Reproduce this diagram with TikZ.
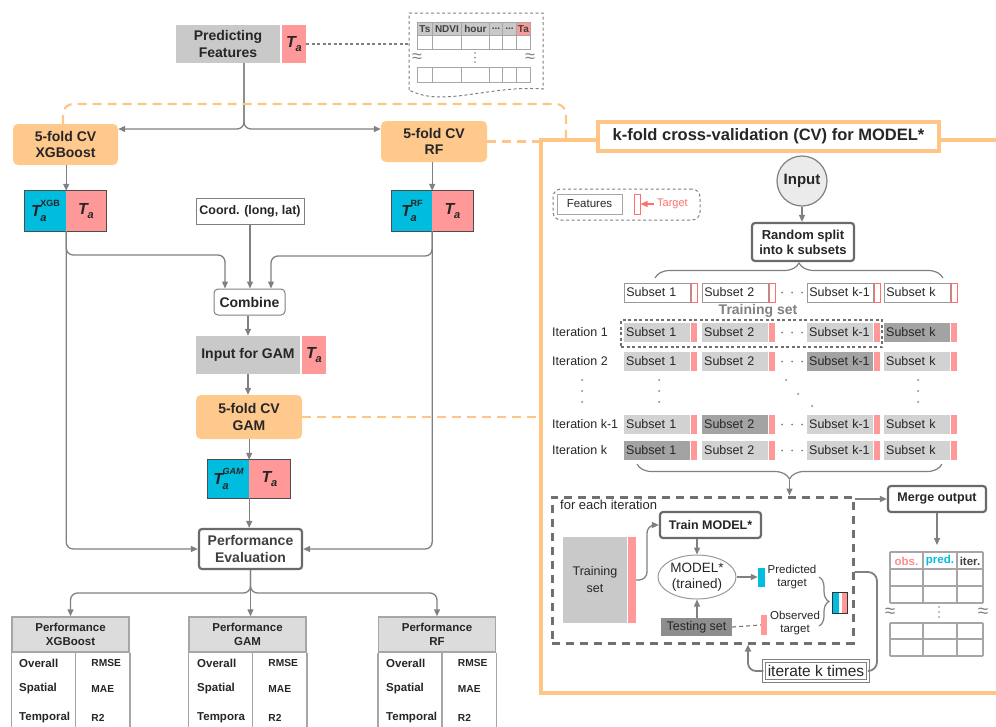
\documentclass[tikz,border=0pt]{standalone}
\usepackage{fontspec}
\setmainfont{Liberation Sans}
\usetikzlibrary{arrows.meta,decorations.pathreplacing,shapes.geometric}
\definecolor{cpink}{HTML}{FF9999}
\definecolor{ccyan}{HTML}{00BCDE}
\definecolor{corange}{HTML}{FFC88C}
\definecolor{cframe}{HTML}{FFC585}
\definecolor{cgray}{HTML}{C9C9C9}
\definecolor{cline}{HTML}{808080}
\definecolor{cthick}{HTML}{6A6A6A}
\definecolor{csub}{HTML}{D2D2D2}
\definecolor{csubdk}{HTML}{A3A3A3}
\definecolor{ctest}{HTML}{8E8E8E}
\definecolor{ctext}{HTML}{262626}
\definecolor{ctxttwo}{HTML}{404040}
\definecolor{cred}{HTML}{FF6F6F}
\definecolor{cth}{HTML}{DCDCDC}
\definecolor{ctb}{HTML}{A6A6A6}
\definecolor{cin}{HTML}{EBEBEB}
\definecolor{cdash}{HTML}{707070}
\newcommand{\fz}[2]{\fontsize{#1}{#2}\selectfont}
\newcommand{\ddd}{...}
\newcommand{\TaSub}{{\bfseries\itshape T\kern-0.3pt\raisebox{-0.3em}{\fz{11}{11}a}}}
\newcommand{\TaSup}[1]{{\bfseries\itshape T\kern-0.3pt\makebox[0pt][l]{\raisebox{-0.3em}{\fz{11}{11}a}}\raisebox{0.6em}{\fz{9}{9}#1}}}
\begin{document}
\begin{tikzpicture}[x=1pt,y=-1pt,
  wh/.style 2 args={minimum width=#1pt, minimum height=#2pt},
  every node/.style={inner sep=0pt, text=ctext},
  conn/.style={draw=cline, line width=1.3pt, rounded corners=7pt},
  arr/.style={conn, -{Triangle[length=7pt,width=6pt]}},
  odash/.style={draw=cframe, line width=2.2pt, dash pattern=on 9pt off 6pt},
  obox/.style={fill=corange, rounded corners=5pt, font=\fz{14}{16.5}\bfseries, align=center},
  gbox/.style={fill=cgray},
  pbox/.style={fill=cpink, font=\fz{16}{18}},
  cbox/.style={fill=ccyan, font=\fz{16}{18}},
  tbox/.style={draw=cthick, line width=2.2pt, rounded corners=3pt, fill=white, align=center},
  tabl/.style={draw=ctb, line width=1.5pt},
  thead/.style={fill=cth, draw=ctb, line width=1.5pt, wh={117}{35}, font=\fz{11.5}{13.5}\bfseries, align=center},
  rowlab/.style={anchor=west, font=\fz{11.5}{13}\bfseries},
  rowval/.style={anchor=west, font=\fz{10.2}{12}\bfseries},
  subw/.style={anchor=west, draw=cline!80, line width=0.8pt, fill=white, text width=62pt, inner xsep=2pt, minimum height=19pt, align=left, font=\fz{12.5}{14}},
  tgw/.style={anchor=west, draw=cred, line width=0.8pt, fill=white, wh={6}{19}},
  subf/.style={anchor=west, text width=62pt, inner xsep=2pt, minimum height=19pt, align=left, font=\fz{12.5}{14}},
  tgf/.style={anchor=west, fill=cpink, wh={6}{19}},
  tcell/.style={draw=ctb, line width=0.9pt}
]
\useasboundingbox (0,0) rectangle (996,726);

% ---------------- right frame ----------------
\draw[cframe, line width=4pt] (996,140) -- (541,140) -- (541,693) -- (996,693);
\coordinate (frameL) at (541,140);
\node[draw=cframe, line width=4pt, fill=white, wh={341}{29}, font=\fz{16.5}{19}\bfseries] (title) at (768.5,136.5) {k-fold cross-validation (CV) for MODEL*};

% ---------------- top: predicting features ----------------
\node[gbox, wh={104}{38}, font=\fz{14}{16.5}\bfseries, align=center] (pf) at (228,44) {Predicting\\Features};
\node[pbox, wh={24}{38}] (pfTa) at (294,44) {\TaSub};

% feature table sketch
\draw[cline, line width=1pt, dash pattern=on 3pt off 2.5pt] (409,90) -- (409,13) -- (543,13) -- (543,89)
  .. controls (505,86) and (470,97) .. (440,97) .. controls (425,97) and (415,93) .. (409,90);
\coordinate (tblL) at (409,44);
\draw[cline, line width=1.2pt, dash pattern=on 3pt off 2.5pt] (pfTa.east) -- (tblL);
\foreach \xa/\xb/\lab [count=\cc] in {417/432/Ts,432/461/NDVI,461/489/hour,489/502/\ddd,502/516/\ddd,516/530/Ta} {
  \ifnum\cc=6 \def\hf{cpink}\else\def\hf{cgray}\fi
  \node[fill=\hf, draw=ctb, line width=0.9pt, minimum width=\xb pt-\xa pt, minimum height=13.3pt, anchor=north west, font=\fz{10}{11}\bfseries, text=ctxttwo] (h\cc) at (\xa,21.7) {\lab};
  \draw[tcell] (\xa,35) rectangle (\xb,49);
  \draw[tcell] (\xa,67) rectangle (\xb,82);
}
\node[font=\fz{18}{18}, text=cline] (apTL) at (417,58) {≈};
\node[font=\fz{18}{18}, text=cline] (apTR) at (530,58) {≈};
\foreach \yy in {53,57.5,62} \fill[cline] (475,\yy) circle (0.8pt);

% ---------------- left flow ----------------
\node[obox, wh={105}{41}] (xgb) at (65.5,144.5) {5-fold CV\\XGBoost};
\node[obox, wh={106}{41}] (rf) at (434,141.5) {5-fold CV\\RF};
\coordinate (sp) at (244,129);
\draw[arr] (sp |- pf.south) -- (sp) -- (xgb.east |- sp);
\draw[arr] (sp |- pf.south) -- (sp) -- (rf.west |- sp);

\node[cbox, wh={41}{40}] (xgbC) at (45.5,211) {\TaSup{\upshape XGB}};
\node[pbox, wh={40}{40}] (xgbP) at (86,211) {\TaSub};
\draw[black!70, line width=0.8pt] (xgbC.north west) rectangle (xgbP.south east);
\node[cbox, wh={40}{40}] (rfC) at (412,211) {\TaSup{\upshape RF}};
\node[pbox, wh={41}{40}] (rfP) at (452.5,211) {\TaSub};
\draw[black!70, line width=0.8pt] (rfC.north west) rectangle (rfP.south east);
\draw[arr] (xgbC.east |- xgb.south) -- (xgbC.north east);
\draw[arr] (rfC.east |- rf.south) -- (rfC.north east);

\node[draw=cline, line width=1pt, fill=white, wh={108}{26}, font=\fz{12.5}{15}\bfseries] (crd) at (250,211) {Coord. (long, lat)};
\node[draw=cline, line width=1pt, rounded corners=4pt, fill=white, wh={71}{26}, font=\fz{14}{16}\bfseries] (cmb) at (249.5,302) {Combine};
\coordinate (jx) at (0,255);
\coordinate (jr) at (0,256);
\coordinate (cbL) at ([xshift=-24.5pt]cmb.north);
\coordinate (cbR) at ([xshift=21.5pt]cmb.north);
\draw[arr] (xgbC.south east) -- (xgbC.south east |- jx) -- (cbL |- jx) -- (cbL);
\draw[arr] (rfC.south east) -- (rfC.south east |- jr) -- (cbR |- jr) -- (cbR);
\draw[arr] (crd.south) -- (crd.south |- cmb.north);

\node[gbox, wh={104}{38}, font=\fz{14}{16}\bfseries] (gin) at (248,355) {Input for GAM};
\node[pbox, wh={24}{38}] (ginTa) at (314,355) {\TaSub};
\draw[arr] (gin.north |- cmb.south) -- (gin.north);
\node[obox, wh={106}{44}] (gam) at (249,417) {5-fold CV\\GAM};
\draw[arr] (gin.south) -- (gin.south |- gam.north);

\node[cbox, wh={41}{38}] (gamC) at (228.5,479) {\TaSup{GAM}};
\node[pbox, wh={41}{38}] (gamP) at (269.5,479) {\TaSub};
\draw[black!70, line width=0.8pt] (gamC.north west) rectangle (gamP.south east);
\draw[arr] (gamC.east |- gam.south) -- (gamC.north east);

\node[tbox, wh={103}{40}, font=\fz{14}{17}\bfseries, text=ctxttwo] (perf) at (250.5,549) {Performance\\Evaluation};
\draw[arr] (gamC.south east) -- (gamC.south east |- perf.north);
\draw[arr] (xgbC.south east) -- (xgbC.south east |- perf.west) -- (perf.west);
\draw[arr] (rfC.south east) -- (rfC.south east |- perf.east) -- (perf.east);

% orange dashed links
\coordinate (od1) at (63,104);
\coordinate (od2) at (566,104);
\coordinate (od3) at (566,139);
\draw[odash, rounded corners=10pt] (od1 |- xgb.north) -- (od1) -- (od2) -- (od3);
\draw[odash] (rf.east) -- (rf.east -| frameL);
\draw[odash] (gam.east) -- (gam.east -| frameL);

% performance tables
\node[thead] (tX) at (70.5,634.5) {Performance\\XGBoost};
\node[thead] (tG) at (247.5,634.5) {Performance\\GAM};
\node[thead] (tR) at (437,634.5) {Performance\\RF};
\coordinate (pbr) at (250,593);
\coordinate (bot) at (0,727);
\draw[arr] (perf.south) -- (perf.south |- pbr) -- (tX.north |- pbr) -- (tX.north);
\draw[arr] (perf.south) -- (perf.south |- tG.north);
\draw[arr] (perf.south) -- (perf.south |- pbr) -- (tR.north |- pbr) -- (tR.north);
\foreach \t in {tX,tG,tR} {
  \draw[tabl] (\t.south west) -- (\t.south west |- bot);
  \draw[tabl] (\t.south east) -- (\t.south east |- bot);
  \coordinate (\t d) at ([xshift=64pt]\t.south west);
  \draw[tabl] (\t d) -- (\t d |- bot);
}
\foreach \lx/\t/\tl [count=\cc] in {19/tX/Temporal,197/tG/Tempora,386/tR/Temporal} {
  \node[rowlab] (o\cc) at (\lx,663) {Overall};
  \node[rowlab] (s\cc) at (\lx,689) {Spatial};
  \node[rowlab] (p\cc) at (\lx,718) {\tl};
  \node[rowval] (vr\cc) at ([xshift=16pt]\t d |- o\cc) {RMSE};
  \node[rowval] (vm\cc) at ([xshift=16pt]\t d |- s\cc) {MAE};
  \node[rowval] (vq\cc) at ([xshift=16pt]\t d |- p\cc) {R2};
}

% ---------------- right: k-fold CV ----------------
\node[circle, draw=cline, line width=1.2pt, fill=cin, minimum size=50pt, font=\fz{15}{17}\bfseries] (inp) at (802,181) {Input};
\node[tbox, wh={102}{38}, font=\fz{13}{15}\bfseries] (spl) at (803,242) {Random split\\into k subsets};
\draw[arr] (inp.south) -- (inp.south |- spl.north);

% legend
\node[draw=cline, line width=1pt, dash pattern=on 3pt off 2.5pt, rounded corners=8pt, wh={147}{31}] (leg) at (626.5,204.5) {};
\node[draw=ctb, line width=1pt, wh={65}{20}, font=\fz{11.5}{13}] (feat) at (589.5,204) {Features};
\node[draw=cred, line width=1pt, wh={6}{20}] (tgt) at (637,204) {};
\coordinate (tga) at (654,204);
\draw[cred, line width=1.2pt, -{Triangle[length=7pt,width=6pt]}] (tga) -- (tgt.east);
\node[anchor=west, font=\fz{11}{13}, text=cred] (tgl) at (657,204) {Target};

% braces
\draw[cline, line width=1.2pt, decorate, decoration={brace, amplitude=15pt}] (655,278) -- (943,278);
\draw[cline, line width=1.2pt, decorate, decoration={brace, amplitude=15pt}] (942,464) -- (637,464);

% subset rows
\foreach \lx/\lab [count=\cc] in {624/1,702/2,807/k-1,884/k} {
  \node[subw] (s0c\cc) at (\lx,292.5) {Subset \lab};
  \node[tgw] (t0c\cc) at (\lx+67,292.5) {};
}
\node[font=\fz{14}{16}\bfseries, text=cline] (trlab) at (758,311) {Training set};
\foreach \yy/\itn/\dk [count=\rr] in {332.5/1/4,361.5/2/3,424.5/k-1/2,450.5/k/1} {
  \node[anchor=west, font=\fz{12.5}{14}] (it\rr) at (552,\yy) {Iteration \itn};
  \foreach \lx/\lab [count=\cc] in {624/1,702/2,807/k-1,884/k} {
    \ifnum\cc=\dk\relax \def\fc{csubdk}\else\def\fc{csub}\fi
    \node[subf, fill=\fc] (s\rr c\cc) at (\lx,\yy) {Subset \lab};
    \node[tgf] (t\rr c\cc) at (\lx+67,\yy) {};
  }
}
\foreach \yy in {292.5,332.5,361.5,424.5,450.5} {
  \foreach \xx in {782,792,802} \fill[cline] (\xx,\yy) circle (1pt);
}
\node[draw=cdash, line width=1.2pt, dash pattern=on 3pt off 2.5pt, wh={261}{27}] (trbox) at (751.5,333.5) {};
\foreach \xx in {582,659,918} {
  \foreach \yy in {380,391,402} \fill[cline] (\xx,\yy) circle (1pt);
}
\fill[cline] (786,380) circle (1pt);
\fill[cline] (798,394) circle (1pt);
\fill[cline] (812,406) circle (1pt);

% for each iteration
\node[draw=cdash, line width=3pt, dash pattern=on 8pt off 6pt, wh={301}{146}] (fe) at (702.5,570) {};
\coordinate (bt) at (789.5,480);
\draw[arr] (bt) -- (bt |- fe.north);
\node[anchor=west, font=\fz{13}{15}] (felab) at (560,505) {for each iteration};
\node[gbox, wh={64}{86}, font=\fz{12.5}{17}, align=center] (trs) at (595,580) {Training\\set};
\node[fill=cpink, wh={8}{86}] (trbar) at (632,580) {};
\node[tbox, wh={101}{26}, font=\fz{12.5}{15}\bfseries] (trm) at (710.5,525) {Train MODEL*};
\coordinate (tk) at (647,580);
\draw[arr, rounded corners=8pt] (trbar.east) -- (tk) -- (tk |- trm.west) -- (trm.west);
\node[ellipse, draw=cline!80, line width=1pt, wh={78}{44}, align=center, font=\fz{13.5}{15.5}] (mdl) at (697,577) {MODEL*\\(trained)};
\draw[arr] (mdl.north |- trm.south) -- (mdl.north);
\node[fill=ccyan, wh={7}{19}] (predbar) at (761.5,577) {};
\draw[arr] (mdl.east) -- (predbar.west);
\node[font=\fz{11.5}{12.5}, align=center] (predt) at (792,577) {Predicted\\target};
\node[fill=ctest, wh={71}{18}, font=\fz{12.5}{14}] (tst) at (696.5,627) {Testing set};
\draw[arr] (mdl.south |- tst.north) -- (mdl.south);
\node[fill=cpink, wh={6}{20}] (obsbar) at (764,625) {};
\draw[cline, line width=1.2pt, dash pattern=on 4pt off 3pt] (tst.east) -- (obsbar.west);
\node[font=\fz{11.5}{12.5}, align=center] (obst) at (795,623) {Observed\\target};
\draw[cline, line width=1.2pt, decorate, decoration={brace, amplitude=10pt}] (819,577) -- (819,626);
\node[wh={14}{20}] (combo) at (840,603) {};
\fill[ccyan] (combo.north west) rectangle ([xshift=6pt]combo.south west);
\fill[cpink] ([xshift=-5pt]combo.north east) rectangle (combo.south east);
\draw[black!80, line width=1pt] (combo.north west) rectangle (combo.south east);

% merge output
\node[tbox, wh={98}{26}, font=\fz{12.5}{15}\bfseries] (mrg) at (937,499) {Merge output};
\draw[arr] (fe.east |- mrg) -- (mrg.west);
\coordinate (otop) at (937,545);
\draw[arr] (mrg.south) -- (otop);
\foreach \xx in {890,923,957,983} {
  \draw[tabl] (\xx,552) -- (\xx,603);
  \draw[tabl] (\xx,623) -- (\xx,656);
}
\foreach \yy in {552,569,586,603,623,639,656} \draw[tabl] (890,\yy) -- (983,\yy);
\node[font=\fz{11.5}{13}\bfseries, text=cpink!90!red] (obsH) at (906.5,561) {obs.};
\node[font=\fz{11.5}{13}\bfseries, text=ccyan] (predH) at (940,561) {pred.};
\node[font=\fz{11.5}{13}\bfseries, text=ctxttwo] (iterH) at (970,561) {iter.};
\node[font=\fz{19}{19}, text=cline] (apL) at (890,613) {≈};
\node[font=\fz{19}{19}, text=cline] (apR) at (983,613) {≈};
\foreach \yy in {607,612,617} \fill[cline] (939,\yy) circle (0.9pt);

% iterate loop
\node[draw=cline, line width=1.1pt, double=white, double distance=1.2pt, fill=white, wh={104}{20}, font=\fz{15.5}{17}] (itr) at (816,671) {iterate k times};
\coordinate (lp) at (877,572);
\draw[conn, rounded corners=9pt, line width=1.8pt] (fe.east |- lp) -- (lp) -- (lp |- itr) -- (itr.east);
\coordinate (ib) at (748,671);
\draw[arr, rounded corners=8pt, line width=1.8pt] (itr.west) -- (ib) -- (ib |- fe.south);
\end{tikzpicture}
\end{document}
